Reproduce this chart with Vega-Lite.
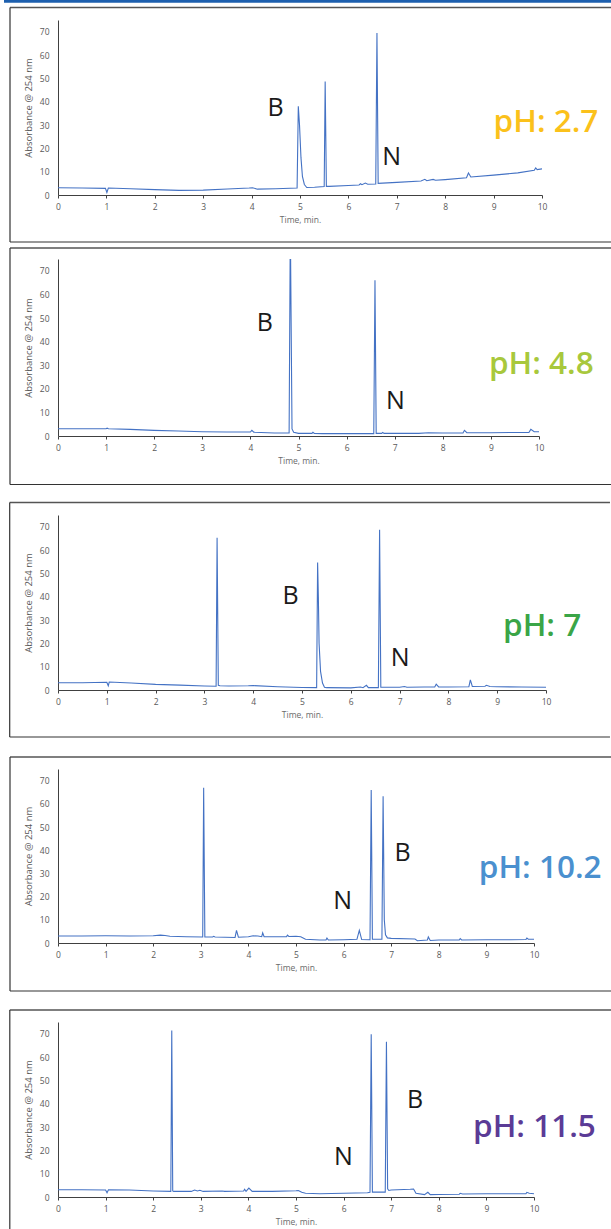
{
  "$schema": "https://vega.github.io/schema/vega-lite/v6.json",
  "padding": 0,
  "spacing": 0,
  "background": "white",
  "config": {
    "view": {"stroke": null},
    "font": "Open Sans",
    "axisX": {"grid": false, "labelFontSize": 8.5, "labelColor": "#595959", "labelFlush": false, "labelOverlap": false, "tickSize": 3, "tickColor": "#404040", "domainColor": "#404040", "labelPadding": 4, "titleFontSize": 8.5, "titleFontWeight": "normal", "titleColor": "#6b6b6b", "titlePadding": 5},
    "axisY": {"grid": false, "tickCount": 8, "labelFontSize": 8.5, "labelColor": "#595959", "labelFlush": false, "labelOverlap": false, "ticks": false, "domainColor": "#404040", "labelPadding": 9, "titleFontSize": 9.5, "titleFontWeight": "normal", "titleColor": "#595959", "titlePadding": 6}
  },
  "datasets": {
    "ph27": [
      {"time": 0, "absorbance": 3.1}, {"time": 0.5, "absorbance": 3.0}, {"time": 0.98, "absorbance": 2.85}, {"time": 1.01, "absorbance": 1.1}, {"time": 1.04, "absorbance": 3.0},
      {"time": 1.5, "absorbance": 2.7}, {"time": 2.0, "absorbance": 2.3}, {"time": 2.5, "absorbance": 2.0}, {"time": 3.0, "absorbance": 2.1}, {"time": 3.5, "absorbance": 2.6},
      {"time": 3.95, "absorbance": 3.0}, {"time": 4.02, "absorbance": 3.1}, {"time": 4.12, "absorbance": 2.5}, {"time": 4.5, "absorbance": 2.7}, {"time": 4.94, "absorbance": 3.0},
      {"time": 4.965, "absorbance": 38.0}, {"time": 4.99, "absorbance": 30.0}, {"time": 5.02, "absorbance": 16.0}, {"time": 5.05, "absorbance": 8.0}, {"time": 5.09, "absorbance": 4.5},
      {"time": 5.14, "absorbance": 3.2}, {"time": 5.3, "absorbance": 3.3}, {"time": 5.5, "absorbance": 3.6}, {"time": 5.52, "absorbance": 48.6}, {"time": 5.545, "absorbance": 3.7},
      {"time": 5.6, "absorbance": 3.7}, {"time": 6.0, "absorbance": 4.1}, {"time": 6.22, "absorbance": 4.3}, {"time": 6.25, "absorbance": 4.8}, {"time": 6.28, "absorbance": 4.4},
      {"time": 6.35, "absorbance": 5.1}, {"time": 6.4, "absorbance": 4.6}, {"time": 6.565, "absorbance": 4.7}, {"time": 6.59, "absorbance": 69.4}, {"time": 6.615, "absorbance": 5.0},
      {"time": 7.0, "absorbance": 5.4}, {"time": 7.5, "absorbance": 6.0}, {"time": 7.58, "absorbance": 6.7}, {"time": 7.62, "absorbance": 6.1}, {"time": 7.75, "absorbance": 6.7},
      {"time": 7.8, "absorbance": 6.3}, {"time": 8.0, "absorbance": 6.6}, {"time": 8.44, "absorbance": 7.4}, {"time": 8.48, "absorbance": 9.4}, {"time": 8.53, "absorbance": 7.7},
      {"time": 9.0, "absorbance": 8.5}, {"time": 9.5, "absorbance": 9.5}, {"time": 9.84, "absorbance": 10.6}, {"time": 9.87, "absorbance": 11.6}, {"time": 9.9, "absorbance": 10.9},
      {"time": 10.0, "absorbance": 11.2}
    ],
    "ph48": [
      {"time": 0, "absorbance": 3.1}, {"time": 0.5, "absorbance": 3.1}, {"time": 1.0, "absorbance": 3.1}, {"time": 1.02, "absorbance": 3.3}, {"time": 1.05, "absorbance": 3.1},
      {"time": 1.5, "absorbance": 2.8}, {"time": 2.0, "absorbance": 2.4}, {"time": 2.5, "absorbance": 2.1}, {"time": 3.0, "absorbance": 1.8}, {"time": 3.5, "absorbance": 1.7},
      {"time": 4.0, "absorbance": 1.7}, {"time": 4.03, "absorbance": 2.4}, {"time": 4.07, "absorbance": 1.6}, {"time": 4.5, "absorbance": 1.3}, {"time": 4.805, "absorbance": 1.3},
      {"time": 4.83, "absorbance": 90}, {"time": 4.865, "absorbance": 3.0}, {"time": 4.9, "absorbance": 1.6}, {"time": 5.0, "absorbance": 1.1}, {"time": 5.28, "absorbance": 1.1},
      {"time": 5.3, "absorbance": 1.6}, {"time": 5.33, "absorbance": 1.1}, {"time": 5.5, "absorbance": 1.0}, {"time": 6.0, "absorbance": 1.0}, {"time": 6.565, "absorbance": 1.0},
      {"time": 6.59, "absorbance": 66.0}, {"time": 6.615, "absorbance": 1.1}, {"time": 6.73, "absorbance": 1.1}, {"time": 6.75, "absorbance": 1.5}, {"time": 6.78, "absorbance": 1.1},
      {"time": 7.0, "absorbance": 1.1}, {"time": 7.5, "absorbance": 1.1}, {"time": 7.7, "absorbance": 1.4}, {"time": 8.0, "absorbance": 1.3}, {"time": 8.42, "absorbance": 1.3},
      {"time": 8.45, "absorbance": 2.4}, {"time": 8.5, "absorbance": 1.4}, {"time": 9.0, "absorbance": 1.4}, {"time": 9.5, "absorbance": 1.5}, {"time": 9.79, "absorbance": 1.5},
      {"time": 9.83, "absorbance": 2.8}, {"time": 9.9, "absorbance": 1.8}, {"time": 10.0, "absorbance": 1.8}
    ],
    "ph7": [
      {"time": 0, "absorbance": 3.1}, {"time": 0.5, "absorbance": 3.1}, {"time": 1.0, "absorbance": 3.3}, {"time": 1.03, "absorbance": 1.8}, {"time": 1.05, "absorbance": 3.4},
      {"time": 1.5, "absorbance": 3.0}, {"time": 2.0, "absorbance": 2.4}, {"time": 2.5, "absorbance": 2.1}, {"time": 3.0, "absorbance": 1.7}, {"time": 3.24, "absorbance": 1.6},
      {"time": 3.26, "absorbance": 65.3}, {"time": 3.285, "absorbance": 2.0}, {"time": 3.32, "absorbance": 1.8}, {"time": 3.5, "absorbance": 1.7}, {"time": 3.9, "absorbance": 1.8},
      {"time": 4.0, "absorbance": 1.9}, {"time": 4.5, "absorbance": 1.4}, {"time": 5.0, "absorbance": 1.1}, {"time": 5.3, "absorbance": 1.0}, {"time": 5.32, "absorbance": 54.6},
      {"time": 5.335, "absorbance": 40.0}, {"time": 5.35, "absorbance": 20.0}, {"time": 5.38, "absorbance": 8.0}, {"time": 5.42, "absorbance": 3.0}, {"time": 5.46, "absorbance": 1.2},
      {"time": 5.5, "absorbance": 1.0}, {"time": 6.0, "absorbance": 0.9}, {"time": 6.2, "absorbance": 1.3}, {"time": 6.25, "absorbance": 1.0}, {"time": 6.32, "absorbance": 2.0},
      {"time": 6.36, "absorbance": 1.0}, {"time": 6.565, "absorbance": 1.0}, {"time": 6.59, "absorbance": 68.7}, {"time": 6.615, "absorbance": 1.2}, {"time": 7.0, "absorbance": 1.2},
      {"time": 7.1, "absorbance": 1.5}, {"time": 7.15, "absorbance": 1.2}, {"time": 7.5, "absorbance": 1.3}, {"time": 7.72, "absorbance": 1.3}, {"time": 7.75, "absorbance": 2.5},
      {"time": 7.8, "absorbance": 1.3}, {"time": 8.0, "absorbance": 1.3}, {"time": 8.42, "absorbance": 1.4}, {"time": 8.45, "absorbance": 4.3}, {"time": 8.49, "absorbance": 1.5},
      {"time": 8.75, "absorbance": 1.6}, {"time": 8.78, "absorbance": 2.0}, {"time": 8.85, "absorbance": 1.5}, {"time": 9.0, "absorbance": 1.4}, {"time": 9.5, "absorbance": 1.3},
      {"time": 10.0, "absorbance": 1.2}
    ],
    "ph102": [
      {"time": 0, "absorbance": 3.0}, {"time": 0.5, "absorbance": 3.0}, {"time": 1.0, "absorbance": 3.1}, {"time": 1.5, "absorbance": 3.0}, {"time": 2.0, "absorbance": 3.1},
      {"time": 2.15, "absorbance": 3.4}, {"time": 2.25, "absorbance": 3.2}, {"time": 2.35, "absorbance": 2.9}, {"time": 2.7, "absorbance": 2.7}, {"time": 3.04, "absorbance": 2.6},
      {"time": 3.06, "absorbance": 66.9}, {"time": 3.085, "absorbance": 2.6}, {"time": 3.25, "absorbance": 2.6}, {"time": 3.27, "absorbance": 2.9}, {"time": 3.3, "absorbance": 2.6},
      {"time": 3.72, "absorbance": 2.4}, {"time": 3.75, "absorbance": 5.4}, {"time": 3.79, "absorbance": 2.5}, {"time": 4.0, "absorbance": 2.7}, {"time": 4.1, "absorbance": 3.1},
      {"time": 4.2, "absorbance": 3.0}, {"time": 4.28, "absorbance": 2.7}, {"time": 4.3, "absorbance": 4.4}, {"time": 4.33, "absorbance": 2.7}, {"time": 4.8, "absorbance": 2.7},
      {"time": 4.82, "absorbance": 3.4}, {"time": 4.85, "absorbance": 2.8}, {"time": 5.0, "absorbance": 2.9}, {"time": 5.1, "absorbance": 2.7}, {"time": 5.2, "absorbance": 1.6},
      {"time": 5.5, "absorbance": 1.3}, {"time": 5.63, "absorbance": 1.3}, {"time": 5.65, "absorbance": 2.1}, {"time": 5.68, "absorbance": 1.3}, {"time": 6.0, "absorbance": 1.4},
      {"time": 6.28, "absorbance": 1.6}, {"time": 6.33, "absorbance": 5.4}, {"time": 6.38, "absorbance": 1.5}, {"time": 6.555, "absorbance": 1.4}, {"time": 6.58, "absorbance": 65.9},
      {"time": 6.605, "absorbance": 1.6}, {"time": 6.805, "absorbance": 1.6}, {"time": 6.83, "absorbance": 63.3}, {"time": 6.855, "absorbance": 10.0}, {"time": 6.88, "absorbance": 3.5},
      {"time": 6.92, "absorbance": 2.2}, {"time": 7.0, "absorbance": 2.0}, {"time": 7.5, "absorbance": 1.7}, {"time": 7.55, "absorbance": 1.0}, {"time": 7.76, "absorbance": 1.3},
      {"time": 7.78, "absorbance": 2.6}, {"time": 7.82, "absorbance": 1.1}, {"time": 8.0, "absorbance": 1.3}, {"time": 8.43, "absorbance": 1.3}, {"time": 8.45, "absorbance": 1.9},
      {"time": 8.48, "absorbance": 1.3}, {"time": 9.0, "absorbance": 1.4}, {"time": 9.5, "absorbance": 1.4}, {"time": 9.83, "absorbance": 1.5}, {"time": 9.85, "absorbance": 2.1},
      {"time": 9.88, "absorbance": 1.6}, {"time": 10.0, "absorbance": 1.6}
    ],
    "ph115": [
      {"time": 0, "absorbance": 3.1}, {"time": 0.5, "absorbance": 3.1}, {"time": 1.0, "absorbance": 3.0}, {"time": 1.03, "absorbance": 1.8}, {"time": 1.06, "absorbance": 3.1},
      {"time": 1.5, "absorbance": 3.0}, {"time": 2.0, "absorbance": 2.6}, {"time": 2.37, "absorbance": 2.4}, {"time": 2.39, "absorbance": 71.4}, {"time": 2.41, "absorbance": 2.6},
      {"time": 2.43, "absorbance": 2.4}, {"time": 2.8, "absorbance": 2.4}, {"time": 2.87, "absorbance": 3.0}, {"time": 2.93, "absorbance": 2.6}, {"time": 2.98, "absorbance": 2.9},
      {"time": 3.05, "absorbance": 2.4}, {"time": 3.45, "absorbance": 2.6}, {"time": 3.5, "absorbance": 2.4}, {"time": 3.9, "absorbance": 2.6}, {"time": 3.92, "absorbance": 3.3},
      {"time": 3.95, "absorbance": 2.4}, {"time": 4.01, "absorbance": 3.8}, {"time": 4.08, "absorbance": 2.4}, {"time": 4.5, "absorbance": 2.4}, {"time": 5.0, "absorbance": 2.7},
      {"time": 5.05, "absorbance": 2.8}, {"time": 5.12, "absorbance": 2.0}, {"time": 5.2, "absorbance": 1.6}, {"time": 5.5, "absorbance": 1.4}, {"time": 6.0, "absorbance": 1.6},
      {"time": 6.5, "absorbance": 1.8}, {"time": 6.555, "absorbance": 2.0}, {"time": 6.58, "absorbance": 69.7}, {"time": 6.605, "absorbance": 2.1}, {"time": 6.875, "absorbance": 2.1},
      {"time": 6.9, "absorbance": 66.5}, {"time": 6.925, "absorbance": 3.5}, {"time": 6.95, "absorbance": 2.8}, {"time": 7.0, "absorbance": 3.0}, {"time": 7.4, "absorbance": 3.3},
      {"time": 7.47, "absorbance": 3.4}, {"time": 7.52, "absorbance": 1.6}, {"time": 7.7, "absorbance": 1.0}, {"time": 7.77, "absorbance": 2.0}, {"time": 7.82, "absorbance": 1.0},
      {"time": 8.0, "absorbance": 1.1}, {"time": 8.43, "absorbance": 1.2}, {"time": 8.45, "absorbance": 1.6}, {"time": 8.5, "absorbance": 1.3}, {"time": 9.0, "absorbance": 1.4},
      {"time": 9.5, "absorbance": 1.4}, {"time": 9.83, "absorbance": 1.4}, {"time": 9.85, "absorbance": 2.0}, {"time": 9.9, "absorbance": 1.6}, {"time": 10.0, "absorbance": 1.4}
    ]
  },
  "vconcat": [
    {
      "width": 484,
      "height": 175,
      "data": {"values": [{}]},
      "layer": [
        {"mark": {"type": "rect", "opacity": 0}, "encoding": {"x": {"datum": -1.1157, "type": "quantitative", "scale": {"domain": [0, 10], "nice": false}, "axis": {"title": "Time, min."}}, "x2": {"datum": 11.508}, "y": {"datum": 83.571, "type": "quantitative", "scale": {"domain": [0, 75], "nice": false}, "axis": {"title": "Absorbance @ 254 nm"}}, "y2": {"datum": -21.857}}},
        {"mark": {"type": "rect", "color": "#1d5fae"}, "encoding": {"x": {"datum": -1.1157, "type": "quantitative"}, "x2": {"datum": 11.508}, "y": {"datum": 83.571, "type": "quantitative"}, "y2": {"datum": 82.414}}},
        {"mark": {"type": "rule", "color": "#555555", "strokeWidth": 1.5}, "encoding": {"x": {"datum": -0.9917, "type": "quantitative"}, "x2": {"datum": 11.488}, "y": {"datum": 80.357, "type": "quantitative"}}},
        {"mark": {"type": "rule", "color": "#333333", "strokeWidth": 1.2}, "encoding": {"x": {"datum": -0.9917, "type": "quantitative"}, "x2": {"datum": 11.488}, "y": {"datum": -20.143, "type": "quantitative"}}},
        {"mark": {"type": "rule", "color": "#333333", "strokeWidth": 1.2}, "encoding": {"x": {"datum": -0.9917, "type": "quantitative"}, "y": {"datum": 80.357, "type": "quantitative"}, "y2": {"datum": -20.143}}},
        {
          "data": {"name": "ph27"},
          "mark": {"type": "line", "color": "#4472c4", "strokeWidth": 1.1, "clip": true},
          "encoding": {
            "x": {"field": "time", "type": "quantitative", "scale": {"domain": [0, 10], "nice": false}},
            "y": {"field": "absorbance", "type": "quantitative", "scale": {"domain": [0, 75], "nice": false}}
          }
        },
        {"mark": {"type": "text", "text": "B", "align": "left", "baseline": "alphabetic", "fontSize": 25, "color": "#1a1a1a"}, "encoding": {"x": {"datum": 4.33, "type": "quantitative"}, "y": {"datum": 33.9, "type": "quantitative"}}},
        {"mark": {"type": "text", "text": "N", "align": "left", "baseline": "alphabetic", "fontSize": 25, "color": "#1a1a1a"}, "encoding": {"x": {"datum": 6.7, "type": "quantitative"}, "y": {"datum": 12.9, "type": "quantitative"}}},
        {"mark": {"type": "text", "text": "pH: 2.7", "align": "left", "baseline": "alphabetic", "fontSize": 31.5, "fontWeight": 600, "color": "#fbc11b"}, "encoding": {"x": {"datum": 9.0, "type": "quantitative"}, "y": {"datum": 27.1, "type": "quantitative"}}}
      ]
    },
    {
      "width": 481,
      "height": 177,
      "data": {"values": [{}]},
      "layer": [
        {"mark": {"type": "rect", "opacity": 0}, "encoding": {"x": {"datum": -1.1227, "type": "quantitative", "scale": {"domain": [0, 10], "nice": false}, "axis": {"title": "Time, min."}}, "x2": {"datum": 11.58}, "y": {"datum": 80.085, "type": "quantitative", "scale": {"domain": [0, 75], "nice": false}, "axis": {"title": "Absorbance @ 254 nm"}}, "y2": {"datum": -26.695}}},
        {"mark": {"type": "rule", "color": "#555555", "strokeWidth": 1.5}, "encoding": {"x": {"datum": -0.998, "type": "quantitative"}, "x2": {"datum": 11.559}, "y": {"datum": 79.661, "type": "quantitative"}}},
        {"mark": {"type": "rule", "color": "#333333", "strokeWidth": 1.2}, "encoding": {"x": {"datum": -0.998, "type": "quantitative"}, "x2": {"datum": 11.559}, "y": {"datum": -20.551, "type": "quantitative"}}},
        {"mark": {"type": "rule", "color": "#333333", "strokeWidth": 1.2}, "encoding": {"x": {"datum": -0.998, "type": "quantitative"}, "y": {"datum": 79.661, "type": "quantitative"}, "y2": {"datum": -20.551}}},
        {
          "data": {"name": "ph48"},
          "mark": {"type": "line", "color": "#4472c4", "strokeWidth": 1.1, "clip": true},
          "encoding": {
            "x": {"field": "time", "type": "quantitative", "scale": {"domain": [0, 10], "nice": false}},
            "y": {"field": "absorbance", "type": "quantitative", "scale": {"domain": [0, 75], "nice": false}}
          }
        },
        {"mark": {"type": "text", "text": "B", "align": "left", "baseline": "alphabetic", "fontSize": 25, "color": "#1a1a1a"}, "encoding": {"x": {"datum": 4.13, "type": "quantitative"}, "y": {"datum": 44.5, "type": "quantitative"}}},
        {"mark": {"type": "text", "text": "N", "align": "left", "baseline": "alphabetic", "fontSize": 25, "color": "#1a1a1a"}, "encoding": {"x": {"datum": 6.82, "type": "quantitative"}, "y": {"datum": 11.4, "type": "quantitative"}}},
        {"mark": {"type": "text", "text": "pH: 4.8", "align": "left", "baseline": "alphabetic", "fontSize": 31.5, "fontWeight": 600, "color": "#a8c83c"}, "encoding": {"x": {"datum": 8.96, "type": "quantitative"}, "y": {"datum": 26.3, "type": "quantitative"}}}
      ]
    },
    {
      "width": 488,
      "height": 175,
      "data": {"values": [{}]},
      "layer": [
        {"mark": {"type": "rect", "opacity": 0}, "encoding": {"x": {"datum": -1.1885, "type": "quantitative", "scale": {"domain": [0, 10], "nice": false}, "axis": {"title": "Time, min."}}, "x2": {"datum": 11.332}, "y": {"datum": 81.0, "type": "quantitative", "scale": {"domain": [0, 75], "nice": false}, "axis": {"title": "Absorbance @ 254 nm"}}, "y2": {"datum": -27.429}}},
        {"mark": {"type": "rule", "color": "#555555", "strokeWidth": 1.5}, "encoding": {"x": {"datum": -0.9898, "type": "quantitative"}, "x2": {"datum": 11.311}, "y": {"datum": 80.357, "type": "quantitative"}}},
        {"mark": {"type": "rule", "color": "#333333", "strokeWidth": 1.2}, "encoding": {"x": {"datum": -0.9898, "type": "quantitative"}, "x2": {"datum": 11.311}, "y": {"datum": -20.143, "type": "quantitative"}}},
        {"mark": {"type": "rule", "color": "#333333", "strokeWidth": 1.2}, "encoding": {"x": {"datum": -0.9898, "type": "quantitative"}, "y": {"datum": 80.357, "type": "quantitative"}, "y2": {"datum": -20.143}}},
        {
          "data": {"name": "ph7"},
          "mark": {"type": "line", "color": "#4472c4", "strokeWidth": 1.1, "clip": true},
          "encoding": {
            "x": {"field": "time", "type": "quantitative", "scale": {"domain": [0, 10], "nice": false}},
            "y": {"field": "absorbance", "type": "quantitative", "scale": {"domain": [0, 75], "nice": false}}
          }
        },
        {"mark": {"type": "text", "text": "B", "align": "left", "baseline": "alphabetic", "fontSize": 25, "color": "#1a1a1a"}, "encoding": {"x": {"datum": 4.6, "type": "quantitative"}, "y": {"datum": 36.9, "type": "quantitative"}}},
        {"mark": {"type": "text", "text": "N", "align": "left", "baseline": "alphabetic", "fontSize": 25, "color": "#1a1a1a"}, "encoding": {"x": {"datum": 6.82, "type": "quantitative"}, "y": {"datum": 10.3, "type": "quantitative"}}},
        {"mark": {"type": "text", "text": "pH: 7", "align": "left", "baseline": "alphabetic", "fontSize": 31.5, "fontWeight": 600, "color": "#3aa547"}, "encoding": {"x": {"datum": 9.12, "type": "quantitative"}, "y": {"datum": 23.1, "type": "quantitative"}}}
      ]
    },
    {
      "width": 476,
      "height": 174,
      "data": {"values": [{}]},
      "layer": [
        {"mark": {"type": "rect", "opacity": 0}, "encoding": {"x": {"datum": -1.1555, "type": "quantitative", "scale": {"domain": [0, 10], "nice": false}, "axis": {"title": "Time, min."}}, "x2": {"datum": 11.681}, "y": {"datum": 81.034, "type": "quantitative", "scale": {"domain": [0, 75], "nice": false}, "axis": {"title": "Absorbance @ 254 nm"}}, "y2": {"datum": -27.586}}},
        {"mark": {"type": "rule", "color": "#555555", "strokeWidth": 1.5}, "encoding": {"x": {"datum": -1.0084, "type": "quantitative"}, "x2": {"datum": 11.66}, "y": {"datum": 80.172, "type": "quantitative"}}},
        {"mark": {"type": "rule", "color": "#333333", "strokeWidth": 1.2}, "encoding": {"x": {"datum": -1.0084, "type": "quantitative"}, "x2": {"datum": 11.66}, "y": {"datum": -20.69, "type": "quantitative"}}},
        {"mark": {"type": "rule", "color": "#333333", "strokeWidth": 1.2}, "encoding": {"x": {"datum": -1.0084, "type": "quantitative"}, "y": {"datum": 80.172, "type": "quantitative"}, "y2": {"datum": -20.69}}},
        {
          "data": {"name": "ph102"},
          "mark": {"type": "line", "color": "#4472c4", "strokeWidth": 1.1, "clip": true},
          "encoding": {
            "x": {"field": "time", "type": "quantitative", "scale": {"domain": [0, 10], "nice": false}},
            "y": {"field": "absorbance", "type": "quantitative", "scale": {"domain": [0, 75], "nice": false}}
          }
        },
        {"mark": {"type": "text", "text": "N", "align": "left", "baseline": "alphabetic", "fontSize": 25, "color": "#1a1a1a"}, "encoding": {"x": {"datum": 5.78, "type": "quantitative"}, "y": {"datum": 14.7, "type": "quantitative"}}},
        {"mark": {"type": "text", "text": "B", "align": "left", "baseline": "alphabetic", "fontSize": 25, "color": "#1a1a1a"}, "encoding": {"x": {"datum": 7.07, "type": "quantitative"}, "y": {"datum": 35.3, "type": "quantitative"}}},
        {"mark": {"type": "text", "text": "pH: 10.2", "align": "left", "baseline": "alphabetic", "fontSize": 31.5, "fontWeight": 600, "color": "#4a90cf"}, "encoding": {"x": {"datum": 8.84, "type": "quantitative"}, "y": {"datum": 28.0, "type": "quantitative"}}}
      ]
    },
    {
      "width": 476,
      "height": 175,
      "data": {"values": [{}]},
      "layer": [
        {"mark": {"type": "rect", "opacity": 0}, "encoding": {"x": {"datum": -1.1345, "type": "quantitative", "scale": {"domain": [0, 10], "nice": false}, "axis": {"title": "Time, min."}}, "x2": {"datum": 11.702}, "y": {"datum": 81.0, "type": "quantitative", "scale": {"domain": [0, 75], "nice": false}, "axis": {"title": "Absorbance @ 254 nm"}}, "y2": {"datum": -15.857}}},
        {"mark": {"type": "rule", "color": "#555555", "strokeWidth": 1.5}, "encoding": {"x": {"datum": -1.0126, "type": "quantitative"}, "x2": {"datum": 11.68}, "y": {"datum": 80.143, "type": "quantitative"}}},
        {"mark": {"type": "rule", "color": "#333333", "strokeWidth": 1.2}, "encoding": {"x": {"datum": -1.0126, "type": "quantitative"}, "y": {"datum": 80.143, "type": "quantitative"}, "y2": {"datum": -15.43}}},
        {
          "data": {"name": "ph115"},
          "mark": {"type": "line", "color": "#4472c4", "strokeWidth": 1.1, "clip": true},
          "encoding": {
            "x": {"field": "time", "type": "quantitative", "scale": {"domain": [0, 10], "nice": false}},
            "y": {"field": "absorbance", "type": "quantitative", "scale": {"domain": [0, 75], "nice": false}}
          }
        },
        {"mark": {"type": "text", "text": "N", "align": "left", "baseline": "alphabetic", "fontSize": 25, "color": "#1a1a1a"}, "encoding": {"x": {"datum": 5.8, "type": "quantitative"}, "y": {"datum": 13.7, "type": "quantitative"}}},
        {"mark": {"type": "text", "text": "B", "align": "left", "baseline": "alphabetic", "fontSize": 25, "color": "#1a1a1a"}, "encoding": {"x": {"datum": 7.33, "type": "quantitative"}, "y": {"datum": 38.1, "type": "quantitative"}}},
        {"mark": {"type": "text", "text": "pH: 11.5", "align": "left", "baseline": "alphabetic", "fontSize": 31.5, "fontWeight": 600, "color": "#5b3b96"}, "encoding": {"x": {"datum": 8.72, "type": "quantitative"}, "y": {"datum": 25.7, "type": "quantitative"}}}
      ]
    }
  ]
}
